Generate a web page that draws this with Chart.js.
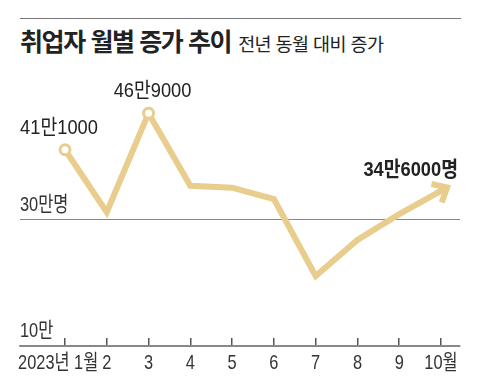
<!DOCTYPE html>
<html lang="ko">
<head>
<meta charset="utf-8">
<title>취업자 월별 증가 추이</title>
<script src="https://cdn.jsdelivr.net/npm/chart.js@4/dist/chart.umd.min.js"></script>
<style>
    body { margin: 0; background: #fff; }
    #wrap { position: relative; width: 480px; height: 384px; overflow: hidden; }
    #rule { position: absolute; left: 20px; top: 18px; width: 441px; border-top: 1.5px solid #777; }
    #title { position: absolute; left: 20px; top: 22px; white-space: nowrap; color: #222;
        font-family: 'Noto Sans CJK KR', sans-serif; }
    #title .main { font-size: 25px; font-weight: 700; letter-spacing: -1.4px; }
    #title .sub { font-size: 18.5px; font-weight: 400; letter-spacing: -0.6px; margin-left: 7px; }
    canvas { position: absolute; left: 0; top: 0; }
</style>
</head>
<body>
<div id="wrap">
    <div id="rule"></div>
    <div id="title"><span class="main">취업자 월별 증가 추이</span><span class="sub">전년 동월 대비 증가</span></div>
    <canvas id="jobsChart" width="480" height="384"></canvas>
</div>
<script>
// months on the x axis
const months = ['2023년 1월', '2', '3', '4', '5', '6', '7', '8', '9', '10월'];
// increase in employed persons vs same month last year, in 만 (10,000 people)
const increase = [41.1, 31.2, 46.9, 35.4, 35.1, 33.3, 21.1, 26.8, 30.9, 34.6];
// value callouts, null where the picture has none
const callouts = ['41만1000', null, '46만9000', null, null, null, null, null, null, '34만6000명'];
// y axis reference lines
const yTickValues = [10, 30];
const yTickLabels = ['10만', '30만명'];

const GOLD = '#E8CD8C';
const FONT = "'Liberation Sans', 'Noto Sans CJK KR', sans-serif";

// the original uses a condensed typeface: squeeze canvas text horizontally
const AXIS_SQUEEZE = 0.78;
let textSqueeze = AXIS_SQUEEZE;
const ctx = document.getElementById('jobsChart').getContext('2d');
const baseFillText = CanvasRenderingContext2D.prototype.fillText;
const baseMeasureText = CanvasRenderingContext2D.prototype.measureText;
ctx.fillText = function (text, x, y) {
    this.save();
    this.translate(x, y);
    this.scale(textSqueeze, 1);
    baseFillText.call(this, text, 0, 0);
    this.restore();
};
ctx.measureText = function (text) {
    const m = baseMeasureText.call(this, text);
    return {
        width: m.width * textSqueeze,
        actualBoundingBoxAscent: m.actualBoundingBoxAscent,
        actualBoundingBoxDescent: m.actualBoundingBoxDescent
    };
};

// arrow head on the last point and text callouts
const calloutPlugin = {
    id: 'callouts',
    beforeDraw() {
        textSqueeze = AXIS_SQUEEZE;
    },
    afterDatasetsDraw(chart) {
        const c = chart.ctx;
        const pts = chart.getDatasetMeta(0).data;
        const a = pts[pts.length - 2], b = pts[pts.length - 1];
        const ang = Math.atan2(b.y - a.y, b.x - a.x);
        const tipX = b.x + Math.cos(ang) * 7, tipY = b.y + Math.sin(ang) * 7;
        c.save();
        c.strokeStyle = GOLD;
        c.lineWidth = 6;
        c.lineJoin = 'miter';
        c.beginPath();
        c.moveTo(b.x - Math.cos(ang) * 4, b.y - Math.sin(ang) * 4);
        c.lineTo(tipX - Math.cos(ang) * 3, tipY - Math.sin(ang) * 3);
        c.stroke();
        c.beginPath();
        c.moveTo(tipX + Math.cos(ang + Math.PI - 0.72) * 16, tipY + Math.sin(ang + Math.PI - 0.72) * 16);
        c.lineTo(tipX, tipY);
        c.lineTo(tipX + Math.cos(ang + Math.PI + 0.72) * 16, tipY + Math.sin(ang + Math.PI + 0.72) * 16);
        c.stroke();

        textSqueeze = 0.87;
        c.fillStyle = '#222';
        c.textBaseline = 'middle';
        callouts.forEach((txt, i) => {
            if (!txt) return;
            const p = pts[i];
            if (i === callouts.length - 1) {
                c.font = 'bold 21px ' + FONT;
                c.textAlign = 'right';
                c.fillText(txt, p.x + 17, p.y - 21);
            } else {
                c.font = '21px ' + FONT;
                c.textAlign = 'center';
                c.fillText(txt, p.x - (i === 0 ? 6 : -4), p.y - 22);
            }
        });
        c.restore();
        textSqueeze = AXIS_SQUEEZE;
    }
};

const jobsChart = new Chart(ctx, {
    type: 'line',
    data: {
        datasets: [{
            data: increase.map((v, i) => ({x: i + 1, y: v})),
            borderColor: GOLD,
            borderWidth: 6,
            borderJoinStyle: 'miter',
            tension: 0,
            pointRadius: callouts.map((t, i) => (t && i < callouts.length - 1) ? 5 : 0),
            pointBackgroundColor: '#fff',
            pointBorderColor: GOLD,
            pointBorderWidth: 3
        }]
    },
    options: {
        responsive: false,
        animation: false,
        layout: {
            padding: {top: 81, left: 20, right: 20, bottom: -4}
        },
        plugins: {
            legend: {display: false},
            tooltip: {enabled: false}
        },
        scales: {
            x: {
                type: 'linear',
                min: -0.077,
                max: 10.455,
                afterBuildTicks: scale => {
                    scale.ticks = months.map((m, i) => ({value: i + 1}));
                },
                ticks: {
                    // the first label sits left of its tick mark in the original
                    callback: v => v === 1 ? months[0] + '\u00a0\u00a0\u00a0' : months[v - 1],
                    autoSkip: false,
                    maxRotation: 0,
                    padding: 14,
                    color: '#333',
                    font: {family: FONT, size: 21, lineHeight: 22 / 21}
                },
                grid: {
                    drawOnChartArea: false,
                    drawTicks: true,
                    tickLength: -8,
                    color: '#555',
                    lineWidth: 1.5
                },
                border: {color: '#888', width: 1.5}
            },
            y: {
                min: 10,
                max: 52,
                afterBuildTicks: scale => {
                    scale.ticks = yTickValues.map(v => ({value: v}));
                },
                ticks: {
                    callback: v => yTickLabels[yTickValues.indexOf(v)],
                    mirror: true,
                    padding: 0,
                    labelOffset: -15,
                    color: '#333',
                    font: {family: FONT, size: 21}
                },
                grid: {
                    color: '#888',
                    lineWidth: 1,
                    drawTicks: false
                },
                border: {display: false}
            }
        }
    },
    plugins: [calloutPlugin]
});
</script>
</body>
</html>
